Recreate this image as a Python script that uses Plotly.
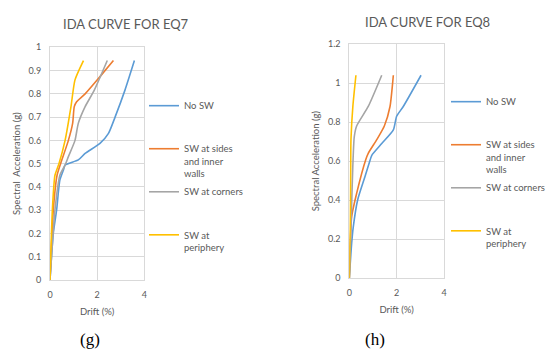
import plotly.graph_objects as go

# ---- data: EQ7 (g) ----
eq7_noSW_x = [0, 0.14, 0.28, 0.42, 0.57, 0.64, 1.2, 1.49, 2.12, 2.48, 2.76, 3.18, 3.58]
eq7_noSW_y = [0, 0.2, 0.3, 0.43, 0.473, 0.494, 0.516, 0.544, 0.587, 0.63, 0.70, 0.816, 0.943]
eq7_sides_x = [0, 0.14, 0.3, 0.45, 0.78, 0.96, 1.03, 1.13, 1.49, 2.12, 2.69]
eq7_sides_y = [0, 0.3, 0.45, 0.5, 0.6, 0.673, 0.745, 0.766, 0.8, 0.874, 0.943]
eq7_corners_x = [0, 0.21, 0.42, 0.64, 0.78, 1.06, 1.2, 1.49, 1.88, 2.43]
eq7_corners_y = [0, 0.3, 0.45, 0.494, 0.53, 0.6, 0.673, 0.745, 0.816, 0.943]
eq7_periph_x = [0, 0.1, 0.21, 0.38, 0.64, 0.89, 1.06, 1.42]
eq7_periph_y = [0, 0.3, 0.45, 0.5, 0.6, 0.745, 0.86, 0.943]

# ---- data: EQ8 (h) ----
eq8_noSW_x = [0, 0.10, 0.17, 0.35, 0.66, 0.88, 0.95, 1.37, 1.86, 2.0, 2.28, 3.03]
eq8_noSW_y = [0, 0.18, 0.265, 0.40, 0.52, 0.606, 0.63, 0.69, 0.76, 0.83, 0.88, 1.04]
eq8_sides_x = [0, 0.10, 0.31, 0.69, 0.80, 1.16, 1.48, 1.72, 1.83, 1.86]
eq8_sides_y = [0, 0.316, 0.435, 0.606, 0.64, 0.71, 0.78, 0.88, 1.0, 1.04]
eq8_corners_x = [0, 0.08, 0.15, 0.21, 0.31, 0.80, 1.37]
eq8_corners_y = [0, 0.3, 0.58, 0.725, 0.78, 0.88, 1.04]
eq8_periph_x = [0, 0.04, 0.06, 0.07, 0.15, 0.28]
eq8_periph_y = [0, 0.3, 0.58, 0.71, 0.88, 1.04]

series_names = ["No SW<br> <br> ", "SW at sides<br>and inner<br>walls",
                "SW at corners<br> <br> ", "SW at<br>periphery<br> "]
colors = ["#5B9BD5", "#ED7D31", "#A5A5A5", "#FFC000"]

# page is offset by the default 8px body margin
OFF = 8
W, H = 538, 347
def px(x):
    return (x - OFF) / W
def py(y):
    return 1 - (y - OFF) / H

FONT = "Lato"
GREY = "#595959"
GRID = "#D9D9D9"

fig = go.Figure()

left = [(eq7_noSW_x, eq7_noSW_y), (eq7_sides_x, eq7_sides_y),
        (eq7_corners_x, eq7_corners_y), (eq7_periph_x, eq7_periph_y)]
right = [(eq8_noSW_x, eq8_noSW_y), (eq8_sides_x, eq8_sides_y),
         (eq8_corners_x, eq8_corners_y), (eq8_periph_x, eq8_periph_y)]

for i, (xs, ys) in enumerate(left):
    fig.add_trace(go.Scatter(x=xs, y=ys, mode="lines", name=series_names[i],
                             line=dict(color=colors[i], width=1.6, shape="spline", smoothing=0.6),
                             xaxis="x", yaxis="y", legend="legend", legendgroup=f"a{i}"))
for i, (xs, ys) in enumerate(right):
    fig.add_trace(go.Scatter(x=xs, y=ys, mode="lines", name=series_names[i],
                             line=dict(color=colors[i], width=1.6, shape="spline", smoothing=0.6),
                             xaxis="x2", yaxis="y2", legend="legend2", legendgroup=f"b{i}"))

axis_common = dict(showgrid=True, gridcolor=GRID, gridwidth=1, zeroline=False,
                   showline=True, linecolor=GRID, mirror=True, ticks="", automargin=False,
                   ticklabelstandoff=6,
                   tickfont=dict(family=FONT, size=9, color=GREY))
tfont = dict(family=FONT, size=9.5, color=GREY)

fig.update_layout(
    width=W, height=H, margin=dict(l=0, r=0, t=0, b=0, autoexpand=False),
    paper_bgcolor="white", plot_bgcolor="white",
    font=dict(family=FONT, color=GREY),
    xaxis=dict(domain=[px(50), px(144.3)], range=[0, 4], dtick=2, anchor="y",
               title=dict(text="Drift (%)", font=tfont, standoff=9), **axis_common),
    yaxis=dict(domain=[py(280), py(47.3)], range=[0, 1], dtick=0.1, anchor="x",
               title=dict(text="Spectral  Acceleration (g)", font=tfont, standoff=6), **axis_common),
    xaxis2=dict(domain=[px(349.3), px(444)], range=[0, 4], dtick=2, anchor="y2",
                title=dict(text="Drift (%)", font=tfont, standoff=9), **axis_common),
    yaxis2=dict(domain=[py(278.3), py(44)], range=[0, 1.2], dtick=0.2, anchor="x2",
                title=dict(text="Spectral Acceleration (g)", font=tfont, standoff=6), **axis_common),
    legend=dict(x=px(144), y=py(93), xanchor="left", yanchor="top",
                font=dict(family=FONT, size=9.5, color=GREY), valign="top",
                tracegroupgap=3, bgcolor="rgba(0,0,0,0)"),
    legend2=dict(x=px(446), y=py(89), xanchor="left", yanchor="top",
                 font=dict(family=FONT, size=9.5, color=GREY), valign="top",
                 tracegroupgap=3, bgcolor="rgba(0,0,0,0)"),
    annotations=[
        dict(text="IDA CURVE FOR EQ7", x=px(126), y=py(24), xref="paper", yref="paper",
             xanchor="center", yanchor="middle",
             showarrow=False, font=dict(family=FONT, size=13, color=GREY)),
        dict(text="IDA CURVE FOR EQ8", x=px(427), y=py(21.5), xref="paper", yref="paper",
             xanchor="center", yanchor="middle",
             showarrow=False, font=dict(family=FONT, size=13, color=GREY)),
        dict(text="(g)", x=px(90), y=py(339), xref="paper", yref="paper",
             xanchor="center", yanchor="middle",
             showarrow=False, font=dict(family="Liberation Serif", size=17, color="#000000")),
        dict(text="(h)", x=px(375), y=py(339), xref="paper", yref="paper",
             xanchor="center", yanchor="middle",
             showarrow=False, font=dict(family="Liberation Serif", size=17, color="#000000")),
    ],
)

fig.write_html("out.html")
